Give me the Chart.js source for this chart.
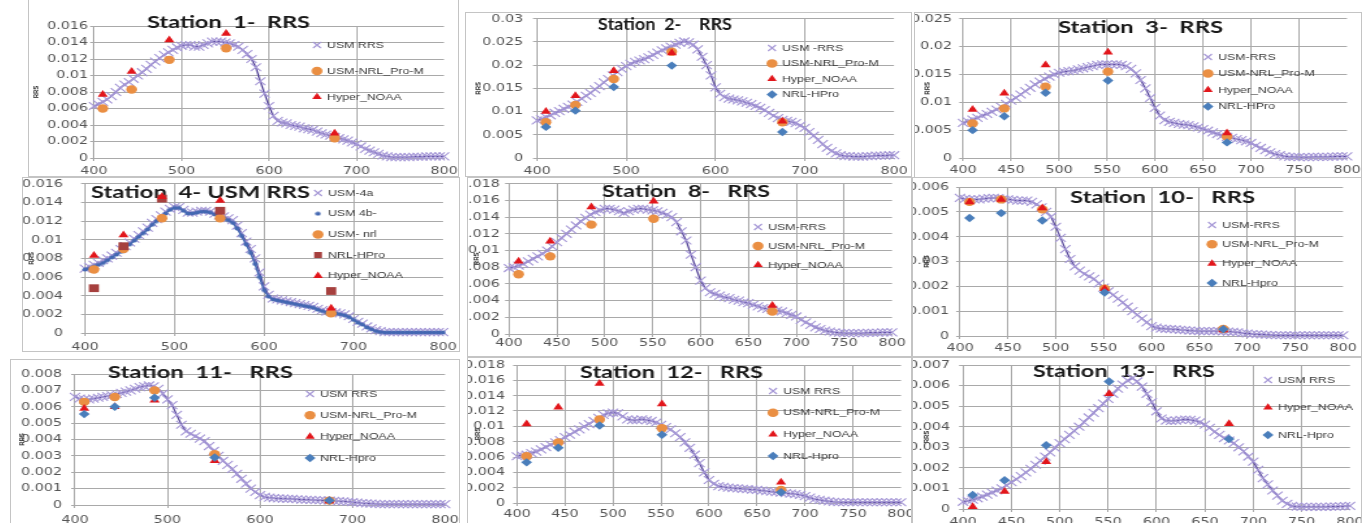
<!DOCTYPE html>
<html><head><meta charset="utf-8">
<script src="https://cdn.jsdelivr.net/npm/chart.js@4.4.1/dist/chart.umd.min.js"></script>
<style>
html,body{margin:0;padding:0;background:#fff;width:1362px;height:523px;overflow:hidden;position:relative}
.frame{position:absolute;border:1px solid #c4c4c4;box-sizing:border-box;pointer-events:none}
.wrap{position:absolute;transform-origin:0 0}
.wrap canvas{display:block}
</style></head><body>
<script>
// ---------------- data ----------------
const WAVELENGTH = [400,405,410,415,420,425,430,435,440,445,450,455,460,465,470,475,480,485,490,495,
500,505,510,515,520,525,530,535,540,545,550,555,560,565,570,575,580,585,590,595,
600,605,610,615,620,625,630,635,640,645,650,655,660,665,670,675,680,685,690,695,
700,705,710,715,720,725,730,735,740,745,750,755,760,765,770,775,780,785,790,795,800];
const BANDS = [410,443,486,551,675];

const X_TICKS_100 = [400,500,600,700,800];
const X_TICKS_50 = [400,450,500,550,600,650,700,750,800];
const Y_TICKS_016 = [0,0.002,0.004,0.006,0.008,0.01,0.012,0.014,0.016];
const Y_TICKS_018 = [0,0.002,0.004,0.006,0.008,0.01,0.012,0.014,0.016,0.018];
const Y_TICKS_030 = [0,0.005,0.01,0.015,0.02,0.025,0.03];
const Y_TICKS_025 = [0,0.005,0.01,0.015,0.02,0.025];
const Y_TICKS_006 = [0,0.001,0.002,0.003,0.004,0.005,0.006];
const Y_TICKS_007 = [0,0.001,0.002,0.003,0.004,0.005,0.006,0.007];
const Y_TICKS_008 = [0,0.001,0.002,0.003,0.004,0.005,0.006,0.007,0.008];

const S1_USM = [0.0063,0.0065,0.0068,0.0071,0.0075,0.0080,0.0085,0.0089,0.0092,0.0096,
0.0100,0.0104,0.0108,0.0113,0.0117,0.0121,0.0125,0.0128,0.0131,0.0134,
0.0136,0.0137,0.0137,0.0135,0.0135,0.0137,0.0139,0.0141,0.0141,0.0141,
0.0140,0.0139,0.0137,0.0135,0.0131,0.0126,0.0120,0.0110,0.0093,0.0078,
0.0063,0.0051,0.0045,0.0043,0.0042,0.0040,0.0039,0.0038,0.0036,0.0035,
0.0034,0.0032,0.0030,0.00285,0.0027,0.00255,0.0024,0.00225,0.0021,0.0019,
0.0017,0.0014,0.0011,0.0009,0.0007,0.0005,0.0003,0.0002,0.0001,0.0001,
0.0001,0.0001,0.0001,0.00015,0.00015,0.00015,0.0002,0.0002,0.0002,0.0002,0.0002];
const S1_NRLM = [0.0060,0.0083,0.0119,0.0133,0.0024];
const S1_NOAA = [0.0077,0.0105,0.0143,0.0151,0.0030];

const S2_USM = [0.0081,0.0084,0.0088,0.0092,0.0097,0.0101,0.0106,0.0110,0.0115,0.0121,
0.0128,0.0134,0.0140,0.0148,0.0155,0.0163,0.0170,0.0178,0.0185,0.0192,
0.0198,0.0203,0.0207,0.0210,0.0213,0.0217,0.0222,0.0227,0.0232,0.0236,
0.0240,0.0244,0.0248,0.0251,0.0249,0.0244,0.0234,0.0218,0.0200,0.0178,
0.0152,0.0138,0.0131,0.0128,0.0126,0.0124,0.0122,0.0119,0.0116,0.0112,
0.0108,0.0103,0.0097,0.0091,0.0086,0.0082,0.0080,0.0078,0.0075,0.0070,
0.0065,0.0056,0.0048,0.0039,0.0030,0.0022,0.0015,0.0010,0.0006,0.0004,
0.0004,0.0003,0.0003,0.0003,0.0004,0.0004,0.0005,0.0005,0.0005,0.0006,0.0006];
const S2_NRLM = [0.0077,0.0114,0.0170,0.0229,0.0077];
const S2_NOAA = [0.0100,0.0134,0.0188,0.0226,0.0079];
const S2_HPRO = [0.0067,0.0102,0.0153,0.0199,0.0056];

const S3_USM = [0.0063,0.0066,0.0069,0.0072,0.0076,0.0079,0.0083,0.0087,0.0092,0.0097,
0.0103,0.0108,0.0114,0.0120,0.0126,0.0132,0.0137,0.0142,0.0146,0.0150,
0.0153,0.0155,0.0156,0.0157,0.0159,0.0161,0.0163,0.0165,0.0167,0.0168,
0.0168,0.0168,0.0168,0.0167,0.0165,0.0160,0.0152,0.0140,0.0125,0.0108,
0.0090,0.0076,0.0068,0.0065,0.0063,0.0061,0.0060,0.0059,0.0057,0.0055,
0.0052,0.0049,0.0046,0.0043,0.0040,0.0038,0.0036,0.0034,0.0032,0.0030,
0.0027,0.0022,0.0018,0.0014,0.0010,0.0007,0.0005,0.0003,0.0002,0.0002,
0.00015,0.00015,0.00015,0.0002,0.0002,0.0002,0.0002,0.00025,0.0003,0.0003,0.0003];
const S3_NRLM = [0.0062,0.0089,0.0128,0.0155,0.0038];
const S3_NOAA = [0.0087,0.0116,0.0167,0.0190,0.0045];
const S3_HPRO = [0.0050,0.0075,0.0117,0.0139,0.0028];

const S4A_USM = [0.0069,0.0071,0.0073,0.0075,0.0078,0.0080,0.0083,0.0086,0.0090,0.0093,
0.0097,0.0101,0.0105,0.0109,0.0113,0.0118,0.0122,0.0126,0.0130,0.0133,
0.0135,0.0135,0.0132,0.0129,0.0129,0.0130,0.0131,0.0131,0.0130,0.0128,
0.0126,0.0125,0.0123,0.0121,0.0115,0.0107,0.0098,0.0090,0.0080,0.0065,
0.0050,0.0041,0.0037,0.0036,0.0035,0.0034,0.0033,0.0032,0.0031,0.0030,
0.0029,0.0028,0.0026,0.00245,0.0023,0.00225,0.0022,0.0021,0.0020,0.0018,
0.0015,0.0012,0.0010,0.0007,0.0005,0.0003,0.0002,0.0001,0.0001,0.0001,
0.0001,0.0001,0.0001,0.0001,0.0001,0.0001,0.0001,0.0001,0.0001,0.0001,0.0001];
const S4B_USM = [0.0068,0.0069,0.0071,0.0073,0.0075,0.0078,0.0081,0.0084,0.0087,0.0091,
0.0095,0.0099,0.0103,0.0107,0.0111,0.0116,0.0120,0.0124,0.0128,0.0132,
0.0134,0.0134,0.0131,0.0128,0.0128,0.0129,0.0130,0.0130,0.0129,0.0127,
0.0125,0.0123,0.0121,0.0118,0.0112,0.0104,0.0095,0.0086,0.0074,0.0060,
0.0046,0.0039,0.0036,0.0035,0.0034,0.0033,0.0032,0.0031,0.0030,0.0029,
0.0028,0.0027,0.0025,0.00235,0.0022,0.00215,0.0021,0.0020,0.0019,0.0017,
0.0014,0.0011,0.0009,0.0006,0.0004,0.0002,0.0001,0.00005,0.00005,0.00005,
0.00005,0.00005,0.00005,0.00005,0.00005,0.00005,0.00005,0.00005,0.00005,0.00005,0.00005];
const S4_NRL = [0.0068,0.0090,0.0123,0.0123,0.0021];
const S4_HPRO = [0.0048,0.0093,0.0144,0.0131,0.0045];
const S4_NOAA = [0.0083,0.0105,0.0146,0.0142,0.00265];

const S8_USM = [0.0079,0.0080,0.0082,0.0084,0.0087,0.0090,0.0093,0.0096,0.0100,0.0105,
0.0110,0.0115,0.0120,0.0125,0.0130,0.0135,0.0139,0.0143,0.0146,0.0148,
0.0150,0.0150,0.0149,0.0147,0.0145,0.0147,0.0149,0.0150,0.0150,0.0149,
0.0148,0.0147,0.0145,0.0143,0.0140,0.0134,0.0123,0.0112,0.0095,0.0080,
0.0064,0.0055,0.0050,0.0048,0.0046,0.0044,0.0043,0.0041,0.0040,0.0038,
0.0037,0.0035,0.0033,0.0031,0.0030,0.0029,0.0028,0.0027,0.0025,0.0023,
0.0021,0.0017,0.0014,0.0011,0.0008,0.0006,0.0004,0.0003,0.0002,0.00015,
0.0001,0.0001,0.0001,0.0001,0.0001,0.00015,0.00015,0.00015,0.0002,0.0002,0.0002];
const S8_NRLM = [0.00715,0.0093,0.0131,0.0138,0.0027];
const S8_NOAA = [0.0087,0.0111,0.0152,0.0159,0.0034];

const S10_USM = [0.00556,0.00552,0.00550,0.00550,0.00550,0.00553,0.00555,0.00556,0.00555,0.00552,
0.00550,0.00548,0.00545,0.00545,0.00545,0.00540,0.00530,0.00518,0.00500,0.00480,
0.00440,0.00395,0.00350,0.00310,0.00280,0.00263,0.00250,0.00240,0.00230,0.00212,
0.00195,0.00180,0.00165,0.00150,0.00135,0.00118,0.00100,0.00085,0.00070,0.00055,
0.00040,0.00034,0.00030,0.00029,0.00028,0.00027,0.00025,0.00024,0.00022,0.00021,
0.00020,0.00020,0.00020,0.00020,0.00020,0.00019,0.00018,0.00017,0.00015,0.00012,
0.00010,0.00008,0.00007,0.00006,0.00005,0.00004,0.00003,0.00003,0.00003,0.00003,
0.00003,0.00003,0.00003,0.00003,0.00003,0.00003,0.00003,0.00003,0.00003,0.00003,0.00003];
const S10_NRLM = [0.0054,0.0055,0.0051,0.0019,0.00028];
const S10_NOAA = [0.0054,0.0055,0.00515,0.0019,0.00024];
const S10_HPRO = [0.00475,0.00495,0.00465,0.00175,0.00027];

const S11_USM = [0.00660,0.00650,0.00645,0.00645,0.00650,0.00655,0.00660,0.00665,0.00670,0.00678,
0.00685,0.00692,0.00700,0.00710,0.00720,0.00725,0.00730,0.00725,0.00710,0.00680,
0.00645,0.00610,0.00550,0.00490,0.00450,0.00435,0.00420,0.00405,0.00390,0.00360,
0.00330,0.00300,0.00270,0.00245,0.00220,0.00190,0.00160,0.00130,0.00100,0.00080,
0.00060,0.00050,0.00045,0.00042,0.00040,0.00039,0.00038,0.00037,0.00035,0.00033,
0.00032,0.00031,0.00030,0.00029,0.00028,0.00027,0.00025,0.00024,0.00022,0.00020,
0.00018,0.00015,0.00012,0.00010,0.00008,0.00007,0.00005,0.00005,0.00005,0.00005,
0.00005,0.00005,0.00005,0.00005,0.00005,0.00005,0.00005,0.00005,0.00005,0.00005,0.00005];
const S11_NRLM = [0.0063,0.0066,0.0070,0.0031,0.00027];
const S11_NOAA = [0.0059,0.0060,0.0064,0.0027,0.00025];
const S11_HPRO = [0.00555,0.0060,0.00655,0.0029,0.00028];

const S12_USM = [0.0061,0.0062,0.0063,0.0065,0.0067,0.0070,0.0073,0.0076,0.0079,0.0082,
0.0086,0.0089,0.0093,0.0096,0.0100,0.0103,0.0107,0.0111,0.0115,0.0117,
0.0118,0.0117,0.0113,0.0109,0.0108,0.0108,0.0109,0.0108,0.0107,0.0105,
0.0102,0.0099,0.0096,0.0091,0.0086,0.0079,0.0072,0.0063,0.0052,0.0040,
0.0030,0.0025,0.0022,0.0021,0.0020,0.00195,0.0019,0.00185,0.0018,0.00175,
0.0017,0.00162,0.00155,0.00148,0.0014,0.00135,0.0013,0.00122,0.00115,0.00105,
0.0009,0.0007,0.0005,0.0004,0.0003,0.0002,0.00015,0.00012,0.0001,0.0001,
0.0001,0.0001,0.0001,0.0001,0.0001,0.0001,0.0001,0.0001,0.0001,0.0001,0.0001];
const S12_NRLM = [0.0061,0.0079,0.0109,0.00975,0.0017];
const S12_NOAA = [0.0103,0.0125,0.0156,0.0129,0.0027];
const S12_HPRO = [0.0053,0.0072,0.0101,0.0089,0.0014];

const S13_USM = [0.00035,0.00040,0.00045,0.00052,0.00060,0.00070,0.00080,0.00090,0.00100,0.00115,
0.00130,0.00145,0.00160,0.00178,0.00195,0.00215,0.00235,0.00255,0.00275,0.00297,
0.00320,0.00340,0.00360,0.00380,0.00400,0.00422,0.00445,0.00467,0.00490,0.00512,
0.00535,0.00560,0.00585,0.00605,0.00625,0.00635,0.00620,0.00595,0.00560,0.00520,
0.00475,0.00440,0.00430,0.00428,0.00430,0.00433,0.00435,0.00433,0.00430,0.00422,
0.00410,0.00395,0.00375,0.00360,0.00345,0.00333,0.00320,0.00300,0.00280,0.00255,
0.00230,0.00190,0.00150,0.00120,0.00090,0.00065,0.00040,0.00025,0.00015,0.00012,
0.00010,0.00010,0.00010,0.00010,0.00010,0.00010,0.00012,0.00012,0.00013,0.00014,0.00015];
const S13_NOAA = [0.00011,0.00085,0.0023,0.0056,0.00415];
const S13_HPRO = [0.00068,0.0014,0.0031,0.0062,0.0034];

// ---------------- styles ----------------
const GRID = '#a9a9a9';
const TICK_COLOR = '#555555';

// small round dot used as point style for the "USM 4b-" series (keeps the legend marker small too)
const SMALL_DOT = (() => {
  const c = document.createElement('canvas');
  c.width = 5; c.height = 5;
  const g = c.getContext('2d');
  g.fillStyle = '#4468b2';
  g.beginPath(); g.arc(2.5, 2.5, 2.1, 0, Math.PI * 2); g.fill();
  return c;
})();

const STYLE = {
  usm:   {showLine:true, borderColor:'#5a4a9c', backgroundColor:'#a597d6', borderWidth:1.3, pointStyle:'crossRot', pointRadius:5.6, pointBorderColor:'#a597d6', pointBackgroundColor:'#a597d6', pointBorderWidth:1.1, order:10},
  usm4b: {showLine:true, borderColor:'#4468b2', backgroundColor:'#4468b2', borderWidth:1.6, pointStyle:SMALL_DOT, pointRadius:2, pointBorderColor:'#4468b2', pointBackgroundColor:'#4468b2', pointBorderWidth:0, order:9},
  nrlm:  {pointStyle:'circle', pointRadius:4.2, borderColor:'#ea8f43', backgroundColor:'#ea8f43', pointBorderColor:'#ea8f43', pointBackgroundColor:'#ea8f43', pointBorderWidth:0, order:4},
  hpsq:  {pointStyle:'rect', pointRadius:5.5, borderColor:'#a6403e', backgroundColor:'#a6403e', pointBorderColor:'#a6403e', pointBackgroundColor:'#a6403e', pointBorderWidth:0, order:3},
  noaa:  {pointStyle:'triangle', pointRadius:4.5, borderColor:'#e2161b', backgroundColor:'#e2161b', pointBorderColor:'#e2161b', pointBackgroundColor:'#e2161b', pointBorderWidth:0, order:2},
  hpro:  {pointStyle:'rectRot', pointRadius:4.2, borderColor:'#4a7ebb', backgroundColor:'#4a7ebb', pointBorderColor:'#4a7ebb', pointBackgroundColor:'#4a7ebb', pointBorderWidth:0, order:1}
};

// ---------------- panels (layout in page px) ----------------
const PANELS = [
 {title:'Station  1-  RRS', yTicks:Y_TICKS_016, xTicks:X_TICKS_100,
  series:[['USM RRS','usm',WAVELENGTH,S1_USM],['USM-NRL_Pro-M','nrlm',BANDS,S1_NRLM],['Hyper_NOAA','noaa',BANDS,S1_NOAA]],
  box:[28,-1,459,177], plot:[94,26,444,158], titlePos:[147,310,23], legend:[317,45,26], rrsX:36, yLabRight:88, xLabY:171},
 {title:'Station  2-    RRS', yTicks:Y_TICKS_030, xTicks:X_TICKS_100,
  series:[['USM -RRS','usm',WAVELENGTH,S2_USM],['USM-NRL_Pro-M','nrlm',BANDS,S2_NRLM],['Hyper_NOAA','noaa',BANDS,S2_NOAA],['NRL-HPro','hpro',BANDS,S2_HPRO]],
  box:[465,12,912,177], plot:[537,16,894,158], titlePos:[598,732,25], legend:[772,48,15.5], rrsX:479, yLabRight:523, xLabY:171},
 {title:'Station  3-  RRS', yTicks:Y_TICKS_025, xTicks:X_TICKS_50,
  series:[['USM-RRS','usm',WAVELENGTH,S3_USM],['USM-NRL_Pro-M','nrlm',BANDS,S3_NRLM],['Hyper_NOAA','noaa',BANDS,S3_NOAA],['NRL-HPro','hpro',BANDS,S3_HPRO]],
  box:[914,12,1362,178], plot:[963,17,1347,158], titlePos:[1058,1223,28], legend:[1208,57,16.5], rrsX:928, yLabRight:952, xLabY:170},
 {title:'Station  4- USM RRS', yTicks:Y_TICKS_016, xTicks:X_TICKS_100,
  series:[['USM-4a','usm',WAVELENGTH,S4A_USM],['USM 4b-','usm4b',WAVELENGTH,S4B_USM],['USM- nrl','nrlm',BANDS,S4_NRL],['NRL-HPro','hpsq',BANDS,S4_HPRO],['Hyper_NOAA','noaa',BANDS,S4_NOAA]],
  box:[22,177,460,352], plot:[85,182,443,333], titlePos:[91,310,193], legend:[318,193,20.7], rrsX:32, yLabRight:63, xLabY:347},
 {title:'Station  8-   RRS', yTicks:Y_TICKS_018, xTicks:X_TICKS_50,
  series:[['USM-RRS','usm',WAVELENGTH,S8_USM],['USM-NRL_Pro-M','nrlm',BANDS,S8_NRLM],['Hyper_NOAA','noaa',BANDS,S8_NOAA]],
  box:[467,177,912,357], plot:[509,183,892,334], titlePos:[602,770,192], legend:[758,227,19], rrsX:477, yLabRight:500, xLabY:343},
 {title:'Station  10-   RRS', yTicks:Y_TICKS_006, xTicks:X_TICKS_50,
  series:[['USM-RRS','usm',WAVELENGTH,S10_USM],['USM-NRL_Pro-M','nrlm',BANDS,S10_NRLM],['Hyper_NOAA','noaa',BANDS,S10_NOAA],['NRL-Hpro','hpro',BANDS,S10_HPRO]],
  box:[912,177,1362,357], plot:[960,187,1343,336], titlePos:[1070,1255,198], legend:[1212,225,19.3], rrsX:927, yLabRight:949, xLabY:348},
 {title:'Station  11-   RRS', yTicks:Y_TICKS_008, xTicks:X_TICKS_100,
  series:[['USM RRS','usm',WAVELENGTH,S11_USM],['USM-NRL_Pro-M','nrlm',BANDS,S11_NRLM],['Hyper_NOAA','noaa',BANDS,S11_NOAA],['NRL-Hpro','hpro',BANDS,S11_HPRO]],
  box:[10,359,460,524], plot:[75,374,445,505], titlePos:[108,293,373], legend:[310,394,21.3], rrsX:22, yLabRight:62, xLabY:520},
 {title:'Station  12-   RRS', yTicks:Y_TICKS_018, xTicks:X_TICKS_50,
  series:[['USM RRS','usm',WAVELENGTH,S12_USM],['USM-NRL_Pro-M','nrlm',BANDS,S12_NRLM],['Hyper_NOAA','noaa',BANDS,S12_NOAA],['NRL-Hpro','hpro',BANDS,S12_HPRO]],
  box:[467,357,912,524], plot:[517,365,901,503], titlePos:[580,763,373], legend:[773,391,21.7], rrsX:478, yLabRight:505, xLabY:514},
 {title:'Station  13-   RRS', yTicks:Y_TICKS_007, xTicks:X_TICKS_50,
  series:[['USM RRS','usm',WAVELENGTH,S13_USM],['Hyper_NOAA','noaa',BANDS,S13_NOAA],['NRL-Hpro','hpro',BANDS,S13_HPRO]],
  box:[912,357,1362,524], plot:[963,365,1350,509], titlePos:[1033,1215,372], legend:[1268,380,27.5], rrsX:927, yLabRight:950, xLabY:522}
];

// ---------------- plugins ----------------
const insideTitle = {
  id:'insideTitle',
  beforeDatasetsDraw(chart, args, o) {
    if (!o || !o.text) return;
    const ctx = chart.ctx;
    ctx.save();
    ctx.font = 'bold ' + o.size + 'px ' + o.family;
    ctx.fillStyle = o.color;
    ctx.textBaseline = 'middle';
    ctx.textAlign = 'left';
    const m = ctx.measureText(o.text).width;
    ctx.translate(o.x, o.y);
    ctx.scale(o.width / m, 1);
    ctx.fillText(o.text, 0, 0);
    ctx.restore();
  }
};
const legendMover = {
  id:'legendMover',
  afterLayout(chart, args, o) {
    const lg = chart.legend;
    if (!lg) return;
    lg.left = o.left; lg.top = o.top; lg.right = chart.width; lg.bottom = chart.height;
  }
};

const STRETCH = 1.3;
const TL = 3;
const TICK_FONT = {family:'DejaVu Sans', size:11};
const LEG_FONT = {family:'Liberation Sans', size:9.5};
const RRS_FONT = {family:'Liberation Sans', size:6, weight:'bold'};

PANELS.forEach(p => {
  const [bx0, by0, bx1, by1] = p.box;
  const cw = bx1 - bx0, ch = by1 - by0;
  const W = Math.round(cw / STRETCH);
  const sx = cw / W;
  const wrap = document.createElement('div');
  wrap.className = 'wrap';
  wrap.style.cssText = 'left:' + bx0 + 'px;top:' + by0 + 'px;width:' + W + 'px;height:' + ch + 'px;transform:scaleX(' + sx + ')';
  const cv = document.createElement('canvas');
  wrap.appendChild(cv);
  document.body.appendChild(wrap);
  const fr = document.createElement('div');
  fr.className = 'frame';
  fr.style.cssText = 'left:' + bx0 + 'px;top:' + by0 + 'px;width:' + cw + 'px;height:' + ch + 'px';
  document.body.appendChild(fr);

  const [L, T, R, B] = p.plot;
  const cx = v => (v - bx0) / sx;
  const yW = cx(L);
  const xH = by1 - B;
  const padTop = T - by0;
  const padRight = W - cx(R);
  const lgPad = p.legend[2] - LEG_FONT.size;
  const boxW = 6;

  const datasets = p.series.map(([label, kind, xs, ys]) => Object.assign({
    label, clip:false,
    data: xs.map((x, i) => ({x, y: ys[i]}))
  }, STYLE[kind]));

  new Chart(cv, {
    type:'scatter',
    data:{datasets},
    options:{
      responsive:true, maintainAspectRatio:false, animation:false, events:[],
      layout:{padding:{left:0, top:padTop, right:padRight, bottom:0}},
      scales:{
        x:{type:'linear', position:'bottom', min:p.xTicks[0], max:p.xTicks[p.xTicks.length-1],
           afterBuildTicks: sc => { sc.ticks = p.xTicks.map(v => ({value:v})); },
           afterFit: sc => { sc.height = xH; sc.paddingLeft = 0; sc.paddingRight = 0; sc.paddingTop = 0; sc.paddingBottom = 0; },
           ticks:{font:TICK_FONT, color:TICK_COLOR, maxRotation:0, autoSkip:false,
                  padding: p.xLabY - B - TL - TICK_FONT.size * 0.6, callback: v => String(v)},
           grid:{color: c => (c.tick && c.tick.value === p.xTicks[p.xTicks.length-1]) ? 'rgba(0,0,0,0)' : GRID, lineWidth:1, tickLength:TL},
           border:{color:GRID, width:1}},
        y:{type:'linear', position:'left', min:0, max:p.yTicks[p.yTicks.length-1],
           afterBuildTicks: sc => { sc.ticks = p.yTicks.map(v => ({value:v})); },
           afterFit: sc => { sc.width = yW; sc.paddingLeft = 0; sc.paddingRight = 0; sc.paddingTop = 0; sc.paddingBottom = 0; },
           ticks:{font:TICK_FONT, color:TICK_COLOR, autoSkip:false, padding: cx(L) - cx(p.yLabRight) - TL, callback: v => String(v)},
           grid:{color:GRID, lineWidth:1, tickLength:TL},
           border:{color:GRID, width:1},
           title:{display:true, text:'RRS', color:'#222', font:RRS_FONT,
                  padding:{top: cx(p.rrsX) - RRS_FONT.size * 0.6, bottom:0}}}
      },
      plugins:{
        tooltip:{enabled:false},
        legend:{display:true, position:'chartArea', align:'start',
          labels:{usePointStyle:true, boxWidth:boxW, boxHeight:boxW, padding:lgPad, font:LEG_FONT, color:'#3a3a3a',
                  sort:(a, b) => a.datasetIndex - b.datasetIndex}},
        legendMover:{left: cx(p.legend[0]) - lgPad - boxW / 2, top: (p.legend[1] - by0) - lgPad - LEG_FONT.size / 2},
        insideTitle:{text:p.title, x: cx(p.titlePos[0]), y: p.titlePos[2] - by0, width: (p.titlePos[1] - p.titlePos[0]) / sx,
                     size:17, family:'Lato, "Open Sans", sans-serif', color:'#1a1a1a'}
      }
    },
    plugins:[insideTitle, legendMover]
  });
});
</script>
</body></html>
